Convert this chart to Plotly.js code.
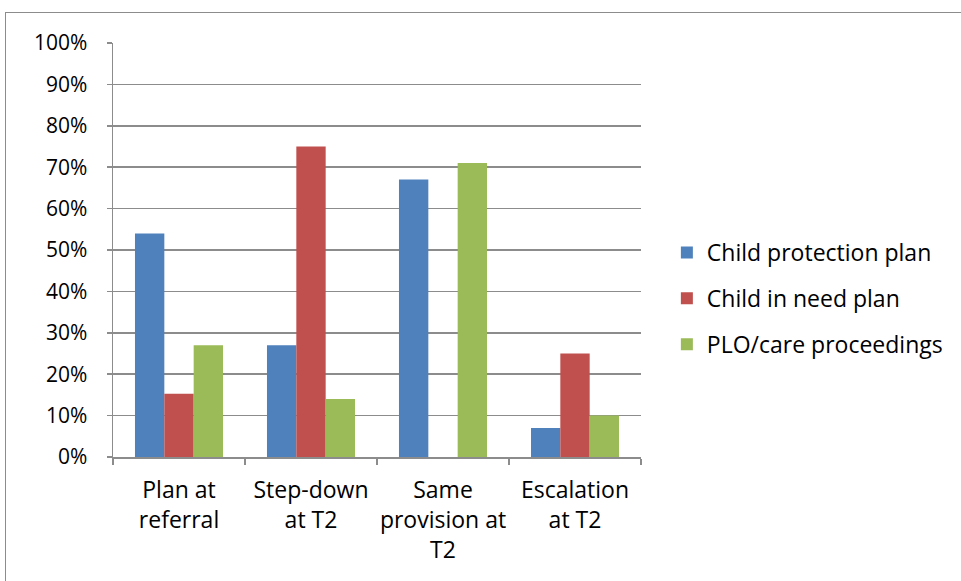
<!DOCTYPE html>
<html>
<head>
<meta charset="utf-8">
<script src="https://cdn.plot.ly/plotly-3.0.1.min.js"></script>
<style>
  html, body { margin: 0; padding: 0; background: #fff; }
  #frame { position: absolute; left: 5px; top: 12px; width: 1000px; height: 640px; border: 1px solid #8c8c8c; box-sizing: border-box; }
  #chart { position: absolute; left: 0; top: 0; width: 961px; height: 581px; }
</style>
</head>
<body>
<div id="frame"></div>
<div id="chart"></div>
<script>
const categories = ["Plan at<br>referral", "Step-down<br>at T2", "Same<br>provision at<br>T2", "Escalation<br>at T2"];
const childProtectionPlan = [0.54, 0.27, 0.67, 0.07];
const childInNeedPlan = [0.153, 0.75, 0, 0.25];
const ploCareProceedings = [0.27, 0.14, 0.71, 0.10];
const seriesNames = ["Child protection plan", "Child in need plan", "PLO/care proceedings"];
const seriesColors = ["#4F81BD", "#C0504D", "#9BBB59"];

const values = [childProtectionPlan, childInNeedPlan, ploCareProceedings];
const traces = values.map((v, i) => ({
  type: "bar",
  x: categories,
  y: v,
  name: seriesNames[i],
  legendgroup: "g" + i,
  marker: { color: seriesColors[i], line: { width: 0 } },
  hoverinfo: "none"
}));

const font = "'Open Sans', 'Noto Sans', sans-serif";
const layout = {
  width: 961, height: 581,
  paper_bgcolor: "rgba(0,0,0,0)",
  plot_bgcolor: "rgba(0,0,0,0)",
  margin: { l: 113, r: 320, t: 43, b: 124 },
  barmode: "group",
  bargap: 0.333,
  bargroupgap: 0,
  font: { family: font, size: 23, color: "#000" },
  xaxis: {
    type: "category",
    showgrid: false,
    showline: true, linecolor: "#8c8c8c", linewidth: 1.5,
    ticks: "outside", tickson: "boundaries", ticklen: 6, tickcolor: "#8c8c8c", tickwidth: 1.5,
    tickfont: { family: font, size: 23, color: "#000" },
    tickangle: 0,
    ticklabelstandoff: 12,
    zeroline: false
  },
  yaxis: {
    range: [0, 1],
    dtick: 0.1,
    tickformat: ".0%",
    showgrid: true, gridcolor: "#8c8c8c", gridwidth: 1.5,
    showline: true, linecolor: "#8c8c8c", linewidth: 1.5,
    ticks: "outside", ticklen: 5, tickcolor: "#8c8c8c", tickwidth: 1.5,
    tickfont: { family: font, size: 21, color: "#000" },
    ticklabelstandoff: 15,
    zeroline: false,
    fixedrange: true
  },
  legend: {
    x: 1.049, xanchor: "left",
    y: 0.383, yanchor: "middle",
    font: { family: font, size: 23, color: "#000" },
    traceorder: "grouped",
    tracegroupgap: 13,
    bgcolor: "rgba(0,0,0,0)",
    itemwidth: 30
  },
  showlegend: true
};

Plotly.newPlot("chart", traces, layout, { staticPlot: true, displayModeBar: false });
</script>
</body>
</html>
